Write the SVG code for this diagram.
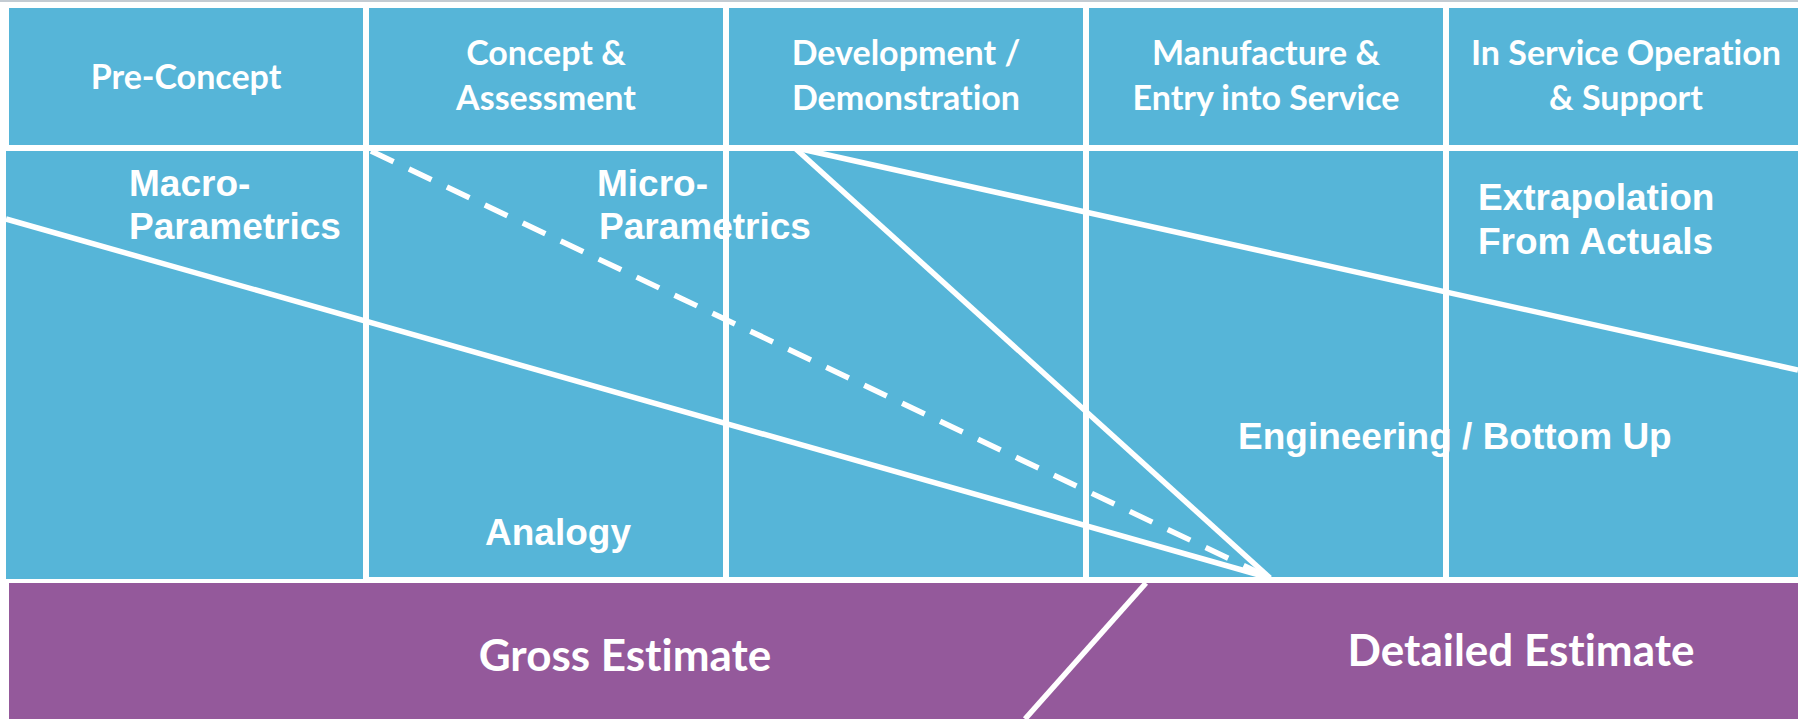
<svg xmlns="http://www.w3.org/2000/svg" width="1798" height="719" viewBox="0 0 1798 719">
  <defs>
    <style>
      .cell { fill: #56b5d8; }
      .band { fill: #94599b; }
      .phase { font-family: "Lato", "Open Sans", sans-serif; font-weight: 700; font-size: 34px; fill: #ffffff; text-anchor: middle; font-variant-ligatures: none; font-feature-settings: "liga" 0, "clig" 0; }
      .method { font-family: "Liberation Sans", Arial, sans-serif; font-weight: 700; font-size: 37px; fill: #ffffff; }
      .estimate { font-family: "Lato", "Open Sans", sans-serif; font-weight: 700; font-size: 44px; fill: #ffffff; text-anchor: middle; font-variant-ligatures: none; font-feature-settings: "liga" 0, "clig" 0; }
      .rule { stroke: #ffffff; stroke-width: 5.5; fill: none; }
      .rule-dash { stroke: #ffffff; stroke-width: 5.5; fill: none; stroke-dasharray: 25 17; }
    </style>
  </defs>

  <!-- page background -->
  <rect x="0" y="0" width="1798" height="719" fill="#ffffff"/>
  <rect x="0" y="0" width="1798" height="2" fill="#c3cbd2"/>

  <!-- phase header row -->
  <g id="phase-pre-concept">
    <rect class="cell" x="9" y="8" width="354" height="137"/>
    <text class="phase" x="186" y="89">Pre-Concept</text>
  </g>
  <g id="phase-concept-assessment">
    <rect class="cell" x="369" y="8" width="354" height="137"/>
    <text class="phase" x="546" y="65">Concept &amp;</text>
    <text class="phase" x="546" y="110">Assessment</text>
  </g>
  <g id="phase-development">
    <rect class="cell" x="729" y="8" width="354" height="137"/>
    <text class="phase" x="906" y="65">Development /</text>
    <text class="phase" x="906" y="110">Demonstration</text>
  </g>
  <g id="phase-manufacture">
    <rect class="cell" x="1089" y="8" width="354" height="137"/>
    <text class="phase" x="1266" y="65">Manufacture &amp;</text>
    <text class="phase" x="1266" y="110">Entry into Service</text>
  </g>
  <g id="phase-in-service">
    <rect class="cell" x="1449" y="8" width="349" height="137"/>
    <text class="phase" x="1626" y="65">In Service Operation</text>
    <text class="phase" x="1626" y="110">&amp; Support</text>
  </g>

  <!-- method area cells -->
  <g id="area-pre-concept">
    <rect class="cell" x="6" y="151" width="357" height="428"/>
  </g>
  <g id="area-concept-assessment">
    <rect class="cell" x="369" y="151" width="354" height="426"/>
  </g>
  <g id="area-development">
    <rect class="cell" x="729" y="151" width="354" height="426"/>
  </g>
  <g id="area-manufacture">
    <rect class="cell" x="1089" y="151" width="354" height="426"/>
  </g>
  <g id="area-in-service">
    <rect class="cell" x="1449" y="151" width="349" height="426"/>
  </g>

  <!-- estimate band -->
  <g id="estimate-band">
    <rect class="band" x="9" y="583" width="1789" height="136"/>
    <text class="estimate" x="625" y="671">Gross Estimate</text>
    <text class="estimate" x="1521" y="666">Detailed Estimate</text>
  </g>

  <!-- boundary lines between the estimating methods -->
  <g id="connectors">
    <line class="rule" x1="6" y1="219" x2="1270" y2="578"/>
    <line class="rule-dash" x1="371" y1="151" x2="1270" y2="578"/>
    <line class="rule" x1="796" y1="149" x2="1270" y2="578"/>
    <line class="rule" x1="801" y1="149" x2="1798" y2="370"/>
    <line class="rule" x1="1146" y1="583" x2="1025" y2="719"/>
  </g>

  <!-- method labels -->
  <g id="label-macro-parametrics">
    <text class="method" x="129" y="196">Macro-</text>
    <text class="method" x="129" y="239">Parametrics</text>
  </g>
  <g id="label-micro-parametrics">
    <text class="method" x="597" y="196">Micro-</text>
    <text class="method" x="599" y="239">Parametrics</text>
  </g>
  <g id="label-extrapolation">
    <text class="method" x="1478" y="210">Extrapolation</text>
    <text class="method" x="1478" y="254">From Actuals</text>
  </g>
  <g id="label-engineering">
    <text class="method" x="1238" y="449">Engineering / Bottom Up</text>
  </g>
  <g id="label-analogy">
    <text class="method" x="485" y="545">Analogy</text>
  </g>
</svg>
